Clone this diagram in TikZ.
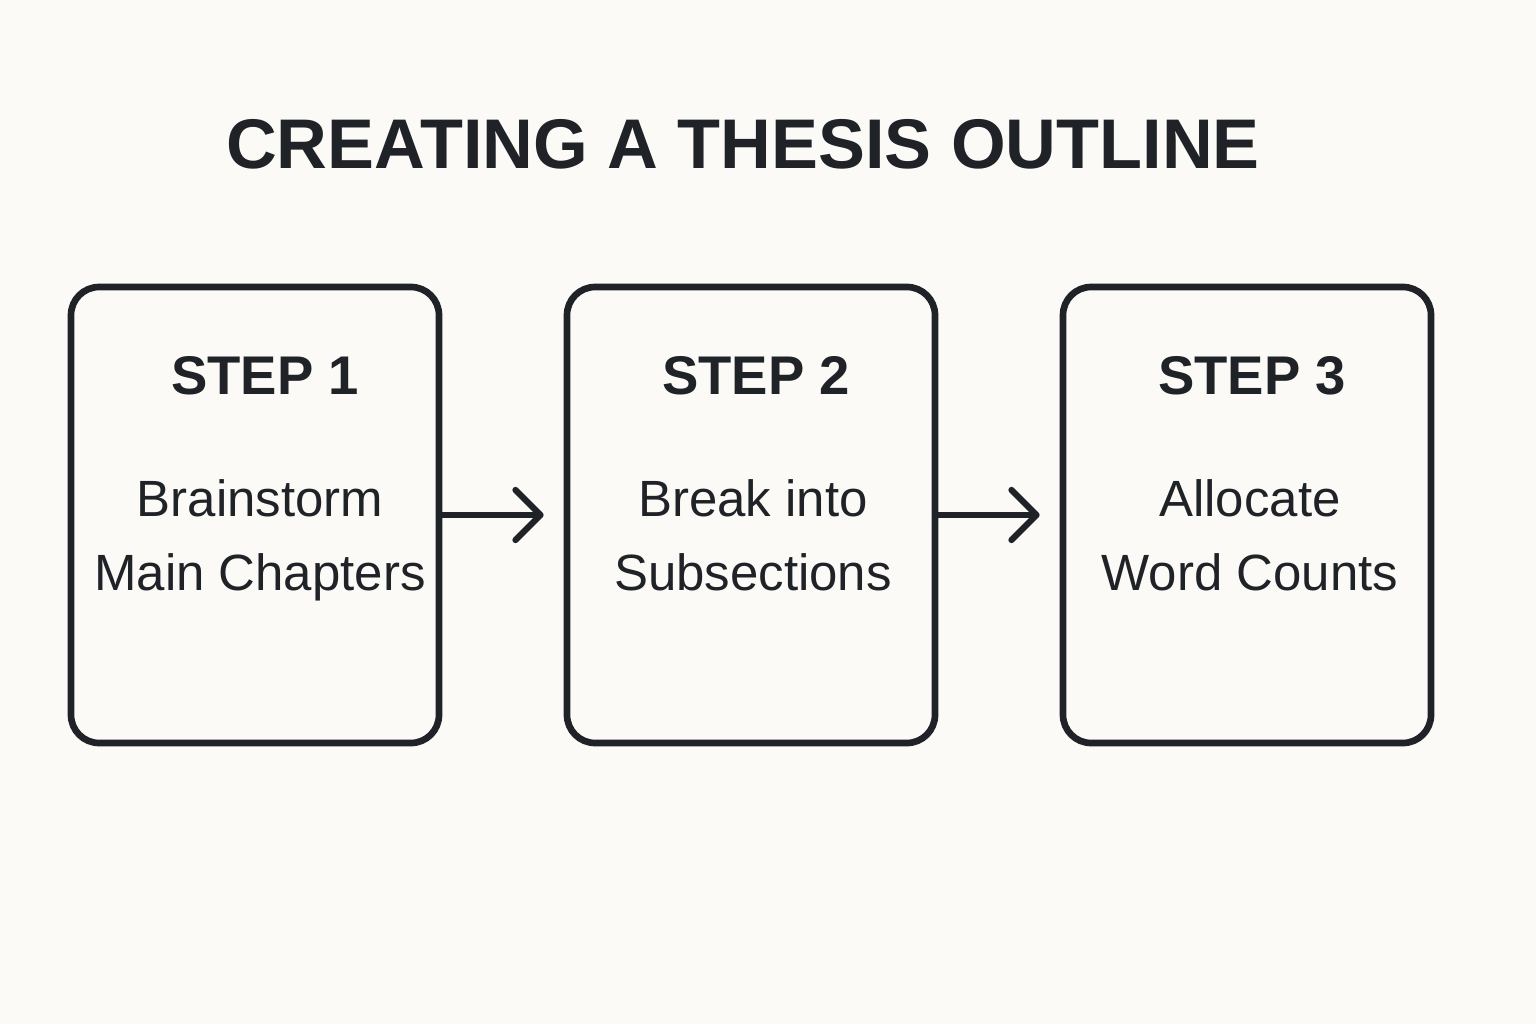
\documentclass[tikz,border=0pt]{standalone}
\usepackage{fontspec}
\setmainfont{Liberation Sans}
\usetikzlibrary{arrows.meta,positioning}
\definecolor{bgcol}{HTML}{FBFAF7}
\definecolor{ink}{HTML}{1F2226}
\tikzset{
  stepbox/.style={rectangle,draw=ink,line width=1.9pt,rounded corners=8pt,minimum width=3.68cm,minimum height=4.56cm,inner sep=0pt},
  steplabel/.style={text=ink,font=\fontsize{15.5}{19}\selectfont\bfseries},
  steptext/.style={text=ink,align=center,font=\fontsize{14.5}{21}\selectfont},
  flowarrow/.style={draw=ink,line width=1.8pt,line cap=round,-{Straight Barb[length=2.5mm,width=5mm,line cap=round,line join=round]},shorten >=0.2cm}
}
\begin{document}
\begin{tikzpicture}
\fill[bgcol] (0,0) rectangle (15.36,10.24);
\useasboundingbox (0,0) rectangle (15.36,10.24);

\node[text=ink,font=\fontsize{20}{24}\selectfont\bfseries] (title) at (7.43,8.80) {CREATING A THESIS OUTLINE};

\node[stepbox] (box1) at (2.55,5.09) {};
\node[stepbox] (box2) at (7.51,5.09) {};
\node[stepbox] (box3) at (12.47,5.09) {};

\node[steplabel] (s1) at (2.65,6.48) {STEP 1};
\node[steplabel] (s2) at (7.56,6.48) {STEP 2};
\node[steplabel] (s3) at (12.52,6.48) {STEP 3};

\node[steptext] (t1) at (2.60,4.85) {\strut Brainstorm\\\strut Main Chapters};
\node[steptext] (t2) at (7.53,4.85) {\strut Break into\\\strut Subsections};
\node[steptext] (t3) at (12.50,4.85) {\strut Allocate\\\strut Word Counts};

\draw[flowarrow] (box1) -- (box2);
\draw[flowarrow] (box2) -- (box3);
\end{tikzpicture}
\end{document}
